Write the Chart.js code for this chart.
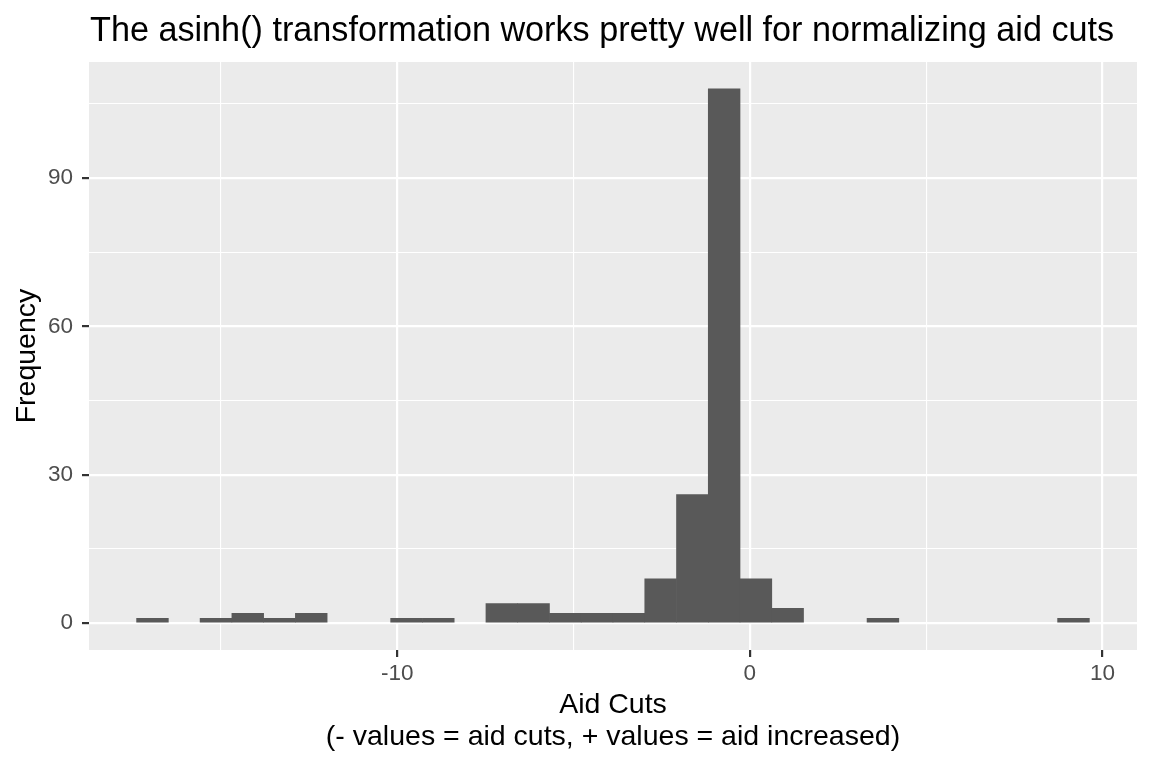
<!DOCTYPE html>
<html>
<head>
<meta charset="utf-8">
<title>asinh aid cuts histogram</title>
<script src="https://cdn.jsdelivr.net/npm/chart.js@4"></script>
<style>
  html, body { margin: 0; padding: 0; background: #ffffff; }
  #wrap { width: 1152px; height: 768px; position: relative; }
</style>
</head>
<body>
<div id="wrap"><canvas id="myChart"></canvas></div>
<script>
// histogram bins (centre of each bin on the asinh scale) and their counts

const binCenters = [
  -16.94, -16.039, -15.139, -14.238, -13.337, -12.437, -11.536, -10.635, -9.735, -8.834,
  -7.933, -7.033, -6.132, -5.231, -4.331, -3.43, -2.529, -1.629, -0.728, 0.173,
  1.073, 1.974, 2.875, 3.775, 4.676, 5.577, 6.477, 7.378, 8.279, 9.179,
];
const counts = [
  1, 0, 1, 2, 1, 2, 0, 0, 1, 1,
  0, 4, 4, 2, 2, 2, 9, 26, 108, 9,
  3, 0, 0, 1, 0, 0, 0, 0, 0, 1,
];
const xLabels = [-10, 0, 10];
const yLabels = [0, 30, 60, 90];

const chartTitle = "The asinh() transformation works pretty well for normalizing aid cuts";

const FONT = "'Liberation Sans', Arial, sans-serif";

// grey panel behind the plot + left aligned title (ggplot style)

const panelAndTitle = {
  id: "panelAndTitle",
  beforeDraw(chart) {
    const { ctx, chartArea } = chart;
    ctx.save();
    ctx.fillStyle = "#EBEBEB";
    ctx.fillRect(chartArea.left, chartArea.top, chartArea.right - chartArea.left, chartArea.bottom - chartArea.top);
    ctx.restore();
  },
  afterDraw(chart) {
    const { ctx, chartArea } = chart;
    ctx.save();
    ctx.font = `34.2px ${FONT}`;
    ctx.fillStyle = "#000000";
    ctx.textBaseline = "alphabetic";
    ctx.textAlign = "left";
    ctx.fillText(chartTitle, chartArea.left + 1, 41);
    ctx.restore();
  },
};

const isMajor = (list, c) => !!(c && c.tick && list.includes(c.tick.value));

const ctx = document.getElementById("myChart");

new Chart(ctx, {
  type: "bar",
  data: {
    datasets: [
      {
        label: "Frequency",
        data: binCenters.map((x, i) => ({ x: x, y: counts[i] })),
        // empty bins stay invisible (no inflated hairline on the zero line)
        backgroundColor: (c) => (c.raw && c.raw.y === 0 ? "rgba(0,0,0,0)" : "#595959"),
        borderWidth: 0,
        barPercentage: 1,
        categoryPercentage: 1,
      },
    ],
  },
  plugins: [panelAndTitle],
  options: {
    responsive: true,
    maintainAspectRatio: false,
    animation: false,
    layout: {
      padding: { top: 62, right: 15, left: 0, bottom: 0 },
    },
    plugins: {
      legend: { display: false },
      tooltip: { enabled: false },
      title: { display: false },
    },
    scales: {
      x: {
        type: "linear",
        min: -18.74,
        max: 10.98,
        offset: false,
        border: { display: false },
        grid: {
          offset: false,
          color: "#FFFFFF",
          lineWidth: (c) => (isMajor(xLabels, c) ? 2.2 : 1.1),
          tickColor: (c) => (isMajor(xLabels, c) ? "#333333" : "rgba(0,0,0,0)"),
          tickWidth: 2.2,
          tickLength: 7,
        },
        ticks: {
          stepSize: 5,
          includeBounds: false,
          autoSkip: false,
          maxRotation: 0,
          padding: 3.5,
          color: "#4D4D4D",
          font: { family: FONT, size: 22.5 },
          callback: function (value) {
            return xLabels.includes(value) ? String(value) : "";
          },
        },
        title: {
          display: true,
          text: ["Aid Cuts", "(- values = aid cuts, + values = aid increased)"],
          color: "#000000",
          font: { family: FONT, size: 28.5, lineHeight: 1.11 },
          padding: { top: 0, bottom: 15 },
        },
        afterFit: (scale) => {
          scale.height = 118;
        },
      },
      y: {
        type: "linear",
        min: -5.4,
        max: 113.4,
        border: { display: false },
        grid: {
          color: "#FFFFFF",
          lineWidth: (c) => (isMajor(yLabels, c) ? 2.2 : 1.1),
          tickColor: (c) => (isMajor(yLabels, c) ? "#333333" : "rgba(0,0,0,0)"),
          tickWidth: 2.2,
          tickLength: 7,
        },
        ticks: {
          stepSize: 15,
          includeBounds: false,
          autoSkip: false,
          padding: 9,
          color: "#4D4D4D",
          font: { family: FONT, size: 22.5 },
          callback: function (value) {
            return yLabels.includes(value) ? String(value) : "";
          },
        },
        title: {
          display: true,
          text: "Frequency",
          color: "#000000",
          font: { family: FONT, size: 28.5, lineHeight: 1.11 },
          padding: { top: 11.5, bottom: 0 },
        },
        afterFit: (scale) => {
          scale.width = 89;
        },
      },
    },
  },
});
</script>
</body>
</html>
